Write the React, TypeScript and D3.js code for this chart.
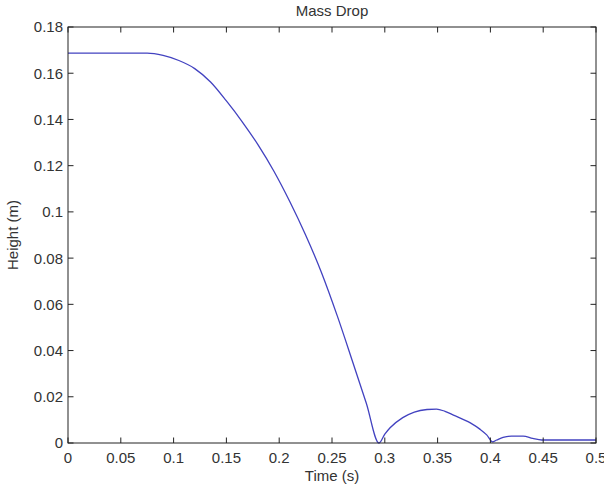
import React from "react";
import * as d3 from "d3";

const timeS = [0, 0.075, 0.09, 0.105, 0.12, 0.135, 0.15, 0.165, 0.18, 0.195, 0.21, 0.225, 0.24, 0.255, 0.27, 0.2825, 0.2945, 0.3, 0.305, 0.317, 0.328, 0.34, 0.349, 0.357, 0.365, 0.381, 0.39, 0.3965, 0.402, 0.406, 0.412, 0.42, 0.431, 0.44, 0.4486, 0.5];
const heightM = [0.1687, 0.1687, 0.1677, 0.1655, 0.162, 0.1562, 0.148, 0.139, 0.129, 0.1176, 0.1045, 0.09, 0.0738, 0.055, 0.0345, 0.0172, 0, 0.0038, 0.0066, 0.011, 0.0134, 0.0145, 0.0147, 0.0137, 0.0121, 0.0087, 0.006, 0.0035, 0.0005, 0.0013, 0.0024, 0.003, 0.003, 0.002, 0.0013, 0.0013];
const xTicks = [0, 0.05, 0.1, 0.15, 0.2, 0.25, 0.3, 0.35, 0.4, 0.45, 0.5];
const yTicks = [0, 0.02, 0.04, 0.06, 0.08, 0.1, 0.12, 0.14, 0.16, 0.18];
const title = "Mass Drop";
const xLabel = "Time (s)";
const yLabel = "Height (m)";

const W = 604, H = 488;
const L = 68, R = 596, T = 27, B = 443;
const font = "'Liberation Sans', Arial, sans-serif";
const fs = 15;
const tickLen = 5.5;
const txtColor = "#333";
const axColor = "#222";

export default function App() {
  const x = d3.scaleLinear().domain([0, 0.5]).range([L, R]);
  const y = d3.scaleLinear().domain([0, 0.18]).range([B, T]);
  const pts = timeS.map((t, i) => [t, heightM[i]] as [number, number]);
  const line = d3.line<[number, number]>().x(d => x(d[0])).y(d => y(d[1])).curve(d3.curveMonotoneX);
  const fmt = (v: number) => String(+v.toFixed(2));
  return (
    <svg width={W} height={H} style={{ position: "absolute", left: 0, top: 0, background: "#fff" }} fontFamily={font}>
      <rect x={0} y={0} width={W} height={H} fill="#fff" />
      <path d={line(pts) || ""} fill="none" stroke="#4242c0" strokeWidth={1.3} />
      <rect x={L} y={T} width={R - L} height={B - T} fill="none" stroke={axColor} strokeWidth={1} />
      {xTicks.map(t => (
        <g key={"x" + t}>
          <line x1={x(t)} x2={x(t)} y1={B} y2={B - tickLen} stroke={axColor} />
          <line x1={x(t)} x2={x(t)} y1={T} y2={T + tickLen} stroke={axColor} />
          <text x={x(t)} y={463} textAnchor="middle" fontSize={fs} fill={txtColor}>{fmt(t)}</text>
        </g>
      ))}
      {yTicks.map(v => (
        <g key={"y" + v}>
          <line x1={L} x2={L + tickLen} y1={y(v)} y2={y(v)} stroke={axColor} />
          <line x1={R} x2={R - tickLen} y1={y(v)} y2={y(v)} stroke={axColor} />
          <text x={63} y={y(v)} dy="0.36em" textAnchor="end" fontSize={fs} fill={txtColor}>{fmt(v)}</text>
        </g>
      ))}
      <text x={(L + R) / 2} y={16} textAnchor="middle" fontSize={fs} fill={txtColor}>{title}</text>
      <text x={(L + R) / 2} y={481} textAnchor="middle" fontSize={fs} fill={txtColor}>{xLabel}</text>
      <text transform={`translate(18,${(T + B) / 2}) rotate(-90)`} textAnchor="middle" fontSize={fs} fill={txtColor}>{yLabel}</text>
    </svg>
  );
}
